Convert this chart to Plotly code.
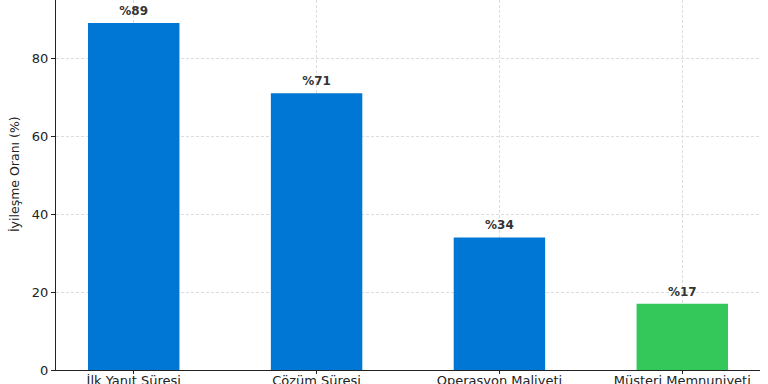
import plotly.graph_objects as go

categories = ["İlk Yanıt Süresi", "Çözüm Süresi", "Operasyon Maliyeti", "Müşteri Memnuniyeti"]
values = [89, 71, 34, 17]
labels = ["%89", "%71", "%34", "%17"]
colors = ["#0077D4", "#0077D4", "#0077D4", "#34C759"]
y_title = "İyileşme Oranı (%)"

fig = go.Figure()
fig.add_trace(go.Bar(
    x=list(range(len(categories))), y=values, width=0.5,
    marker=dict(color=colors, line=dict(width=0)),
    showlegend=False, hoverinfo="skip",
))
fig.add_trace(go.Scatter(
    x=list(range(len(categories))), y=[v + 1.3 for v in values],
    mode="text", text=[f"<b>{t}</b>" for t in labels],
    textposition="top center",
    textfont=dict(family="DejaVu Sans", size=12, color="#333333"),
    showlegend=False, hoverinfo="skip", cliponaxis=False,
))
fig.add_annotation(
    text=y_title, xref="paper", yref="paper", x=-0.058, y=0.53,
    xanchor="center", yanchor="middle", textangle=-90, showarrow=False,
    font=dict(family="DejaVu Sans", size=12.5, color="#222222"),
)
fig.update_layout(
    width=768, height=384,
    margin=dict(l=56, r=8, t=0, b=14, autoexpand=False),
    plot_bgcolor="white", paper_bgcolor="white",
    font=dict(family="DejaVu Sans", size=12, color="#222222"),
    xaxis=dict(
        range=[-0.425, 3.425], tickmode="array",
        tickvals=list(range(len(categories))), ticktext=categories,
        showgrid=True, gridcolor="#dddddd", griddash="3px,2px", gridwidth=0.8,
        showline=True, linecolor="#222222", linewidth=1,
        ticks="outside", ticklen=3, tickcolor="#222222",
        tickfont=dict(size=13), zeroline=False, layer="above traces",
        automargin=False, ticklabelstandoff=-5,
    ),
    yaxis=dict(
        range=[0, 94.9], tickvals=[0, 20, 40, 60, 80],
        showgrid=True, gridcolor="#dddddd", griddash="3px,2px", gridwidth=0.8,
        showline=True, linecolor="#222222", linewidth=1,
        ticks="outside", ticklen=4, tickcolor="#222222",
        tickfont=dict(size=13), zeroline=False,
        layer="above traces", automargin=False,
    ),
)
fig.write_html("out.html", config={"displayModeBar": False},
               post_script="document.body.style.margin='0';document.body.style.overflow='hidden';")
